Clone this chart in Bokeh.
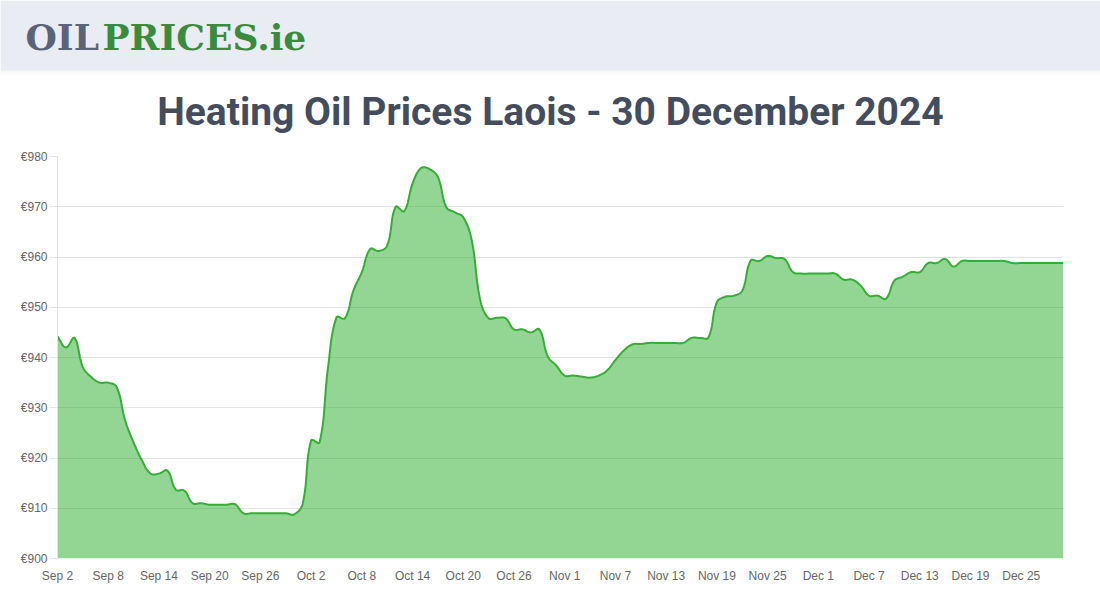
import math
from bokeh.plotting import figure
from bokeh.layouts import column
from bokeh.models import Range1d, FixedTicker
from bokeh.core.properties import value
from bokeh.embed import file_html
from bokeh.resources import INLINE

# ---------------- data ----------------
title_text = "Heating Oil Prices Laois - 30 December 2024"
logo_left = "OIL"
logo_right = "PRICES.ie"

# daily prices, Sep 2 2024 .. Dec 30 2024 (120 days)
prices = [
    944.2, 942.0, 943.9, 938.1, 936.1, 935.0, 935.0, 934.1, 927.5, 923.1,
    919.5, 916.9, 916.9, 917.5, 913.7, 913.5, 911.0, 911.0, 910.7, 910.7,
    910.7, 910.8, 909.0, 909.0, 909.0, 909.0, 909.0, 909.0, 908.8, 910.9,
    923.5, 923.1, 938.0, 948.0, 947.8, 953.3, 957.0, 961.6, 961.2, 962.3,
    970.0, 969.1, 974.6, 977.7, 977.5, 975.9, 969.9, 968.9, 967.9, 963.3,
    951.5, 947.8, 947.9, 947.8, 945.6, 945.6, 945.0, 945.6, 940.2, 938.4,
    936.4, 936.4, 936.2, 936.0, 936.4, 937.4, 939.5, 941.4, 942.6, 942.7,
    942.9, 942.9, 942.9, 942.9, 942.9, 943.9, 943.9, 944.0, 951.0, 952.1,
    952.3, 953.3, 959.3, 959.2, 960.2, 959.8, 959.6, 957.0, 956.7, 956.7,
    956.7, 956.7, 956.7, 955.5, 955.5, 954.3, 952.3, 952.3, 951.7, 955.3,
    956.1, 957.0, 957.0, 958.8, 958.8, 959.6, 958.1, 959.2, 959.2, 959.2,
    959.2, 959.2, 959.2, 958.8, 958.8, 958.8, 958.8, 958.8, 958.8, 958.8,
]
day_index = list(range(len(prices)))

tick_positions = [0, 6, 12, 18, 24, 30, 36, 42, 48, 54, 60, 66, 72, 78, 84, 90, 96, 102, 108, 114]
tick_labels = ["Sep 2", "Sep 8", "Sep 14", "Sep 20", "Sep 26", "Oct 2", "Oct 8", "Oct 14",
               "Oct 20", "Oct 26", "Nov 1", "Nov 7", "Nov 13", "Nov 19", "Nov 25", "Dec 1",
               "Dec 7", "Dec 13", "Dec 19", "Dec 25"]
y_ticks = [900, 910, 920, 930, 940, 950, 960, 970, 980]
y_labels = ["€900", "€910", "€920", "€930", "€940", "€950", "€960", "€970", "€980"]

# ---------------- layout constants ----------------
W = 1100
HEAD_H = 148
MAIN_H = 452
FRAME_W = 1005.5
FRAME_H = 402.0

LINE_COLOR = "#36ad36"
FILL_COLOR = "#28ab28"
TEXT_COLOR = "#666666"
GRID_COLOR = "#e3e3e3"


def smooth(xv, yv, tension=0.4, steps=14):
    """Chart.js style bezier rendering of the series (in pixel space)."""
    sx = FRAME_W / (xv[-1] - xv[0])
    sy = FRAME_H / 80.0
    X = [x * sx for x in xv]
    Y = [y * sy for y in yv]
    n = len(X)
    cps = []
    for i in range(n):
        a = max(i - 1, 0)
        c = min(i + 1, n - 1)
        d01 = math.hypot(X[i] - X[a], Y[i] - Y[a])
        d12 = math.hypot(X[c] - X[i], Y[c] - Y[i])
        tot = d01 + d12
        s01 = d01 / tot if tot else 0.0
        s12 = d12 / tot if tot else 0.0
        fa = tension * s01
        fb = tension * s12
        dx = X[c] - X[a]
        dy = Y[c] - Y[a]
        cps.append(((X[i] - fa * dx, Y[i] - fa * dy), (X[i] + fb * dx, Y[i] + fb * dy)))
    ox, oy = [X[0]], [Y[0]]
    for i in range(n - 1):
        p0 = (X[i], Y[i])
        p1 = cps[i][1]
        p2 = cps[i + 1][0]
        p3 = (X[i + 1], Y[i + 1])
        for k in range(1, steps + 1):
            t = k / steps
            u = 1 - t
            bx = u**3 * p0[0] + 3 * u * u * t * p1[0] + 3 * u * t * t * p2[0] + t**3 * p3[0]
            by = u**3 * p0[1] + 3 * u * u * t * p1[1] + 3 * u * t * t * p2[1] + t**3 * p3[1]
            ox.append(bx)
            oy.append(by)
    return [x / sx for x in ox], [y / sy for y in oy]


# ---------------- header ----------------
head = figure(width=W, height=HEAD_H, x_range=Range1d(0, W), y_range=Range1d(0, HEAD_H),
              output_backend="svg", toolbar_location=None, min_border=0,
              min_border_left=0, min_border_right=0, min_border_top=0, min_border_bottom=0)
head.frame_align = False
head.axis.visible = False
head.grid.visible = False
head.outline_line_color = None
head.background_fill_color = "white"
head.border_fill_color = "white"

band_bottom = HEAD_H - 70
head.quad(left=[0], right=[W], top=[HEAD_H], bottom=[band_bottom],
          fill_color="#e9ecf3", line_color=None)
# soft shadow below the band
for k, a in enumerate([0.08, 0.06, 0.04, 0.028, 0.016, 0.008]):
    head.quad(left=[0], right=[W], top=[band_bottom - k], bottom=[band_bottom - k - 1],
              fill_color="#8a93a6", fill_alpha=a, line_color=None)

head.text(x=[25], y=[HEAD_H - 36.5], text=[logo_left], text_font=value("DejaVu Serif"),
          text_font_style="bold", text_font_size="36px", text_color="#5a6377",
          text_align="left", text_baseline="alphabetic")
head.text(x=[102], y=[HEAD_H - 36.5], text=[logo_right], text_font=value("DejaVu Serif"),
          text_font_style="bold", text_font_size="36px", text_color="#3a8b3d",
          text_align="left", text_baseline="alphabetic")

head.text(x=[550], y=[HEAD_H - 111], text=[title_text], text_font=value("Roboto"),
          text_font_style="bold", text_font_size="39px", text_color="#454d5d",
          text_align="center", text_baseline="alphabetic")

# ---------------- main chart ----------------
p = figure(width=W, height=MAIN_H, x_range=Range1d(0, len(prices) - 1), y_range=Range1d(900, 980),
           output_backend="svg", toolbar_location=None,
           min_border_left=57, min_border_right=37, min_border_top=8, min_border_bottom=42)
p.frame_align = False
p.outline_line_color = None
p.background_fill_color = "white"
p.border_fill_color = "white"

sx, sy = smooth(day_index, prices)
p.varea(x=sx, y1=[900] * len(sx), y2=sy, fill_color=FILL_COLOR, fill_alpha=0.5)
p.line(sx, sy, line_color=LINE_COLOR, line_width=2)

p.xgrid.visible = False
p.ygrid.grid_line_color = GRID_COLOR
p.ygrid.grid_line_width = 1
p.ygrid.ticker = FixedTicker(ticks=y_ticks)

p.yaxis.ticker = FixedTicker(ticks=y_ticks)
p.yaxis.major_label_overrides = {t: l for t, l in zip(y_ticks, y_labels)}
p.yaxis.axis_line_color = GRID_COLOR
p.yaxis.major_tick_line_color = GRID_COLOR
p.yaxis.major_tick_out = 8
p.yaxis.major_tick_in = 0
p.yaxis.minor_tick_line_color = None
p.yaxis.major_label_standoff = 2

p.xaxis.ticker = FixedTicker(ticks=tick_positions)
p.xaxis.major_label_overrides = {t: l for t, l in zip(tick_positions, tick_labels)}
p.xaxis.axis_line_color = None
p.xaxis.major_tick_line_color = None
p.xaxis.major_tick_out = 0
p.xaxis.major_tick_in = 0
p.xaxis.minor_tick_line_color = None
p.xaxis.major_label_standoff = 10

for ax in (p.xaxis, p.yaxis):
    ax.major_label_text_font = "Liberation Sans"
    ax.major_label_text_font_size = "12px"
    ax.major_label_text_color = TEXT_COLOR

layout = column(head, p, spacing=0)
open("out.html", "w").write(file_html(layout, INLINE))
